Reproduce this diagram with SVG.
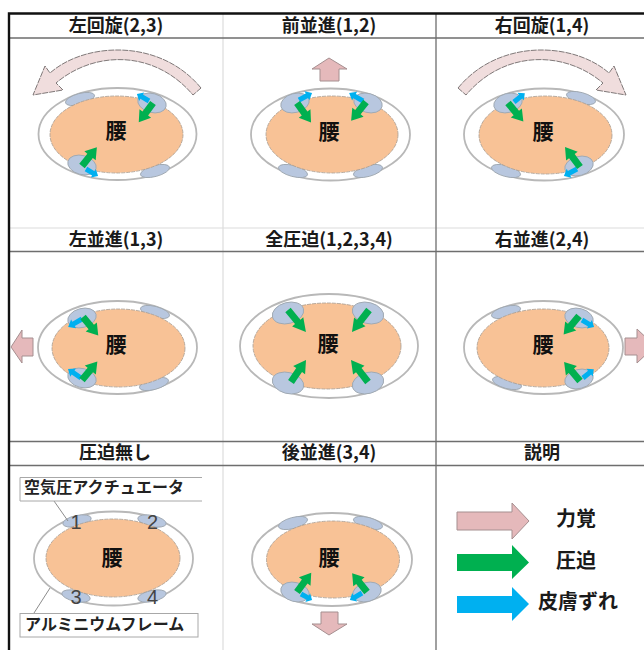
<svg xmlns="http://www.w3.org/2000/svg" xmlns:xlink="http://www.w3.org/1999/xlink" width="644" height="650" viewBox="0 0 644 650">
<style>
text{font-family:"Noto Sans CJK JP","Noto Sans CJK SC",sans-serif;fill:#1a1a1a;text-anchor:middle}
.title{font-size:18px;font-weight:700}
.waist{font-size:21px;font-weight:700;fill:#111}
.legend{font-size:20px;font-weight:700}
.callout{font-size:16px;font-weight:700;text-anchor:start;letter-spacing:.1px;fill:#222}
.num{font-family:"Liberation Sans",sans-serif;font-size:20px;fill:#444}
.frame{fill:#fff;stroke:#b8b8b8;stroke-width:1.8}
.body{fill:#f8c296;stroke:#a79c90;stroke-width:.8;stroke-dasharray:4 1}
.pad{fill:#b8c7df;stroke:#a0a9b2;stroke-width:.9}
.force{fill:#e5b9bb;stroke:#a58f90;stroke-width:1}
.arc{fill:#f0dddd;stroke:#7f7878;stroke-width:1;stroke-dasharray:6 1}
.gl{stroke:#6e6e6e;stroke-width:1.3;fill:none}
.lgl{stroke:#dcdcdc;stroke-width:1.2;fill:none}
.box{fill:#fff;stroke:#a8a8a8;stroke-width:1}
.lead{stroke:#8c8c8c;stroke-width:1;fill:none}
</style>
<defs>
<polygon id="press" fill="#00b050" points="0,-3.500 13,-3.500 13,-7.200 24,0 13,7.200 13,3.500 0,3.500"/>
<polygon id="slip" fill="#00b0f0" points="0,-2.500 8.500,-2.500 8.500,-5 14,0 8.500,5 8.500,2.500 0,2.500"/>
<path id="arcL" class="arc" d="M201,88 C160,38 85,42 50,73 L45,66 L33,95 L63,90 L56,83 C95,50 155,50 193,95 Z"/>
</defs>
<rect width="644" height="650" fill="#fff"/>
<g id="grid">
<path class="lgl" d="M223,14V650M9,228H644"/>
<path class="gl" d="M436,14V650M10,38H644M10,251.500H644M10,441.500H644M10,465.500H644"/>
<path d="M9,650V13.500H644" fill="none" stroke="#111" stroke-width="2.400"/>
</g>

<g id="p-left-rotate">
<use href="#arcL"/>
<ellipse class="frame" cx="117.500" cy="134" rx="79" ry="46"/>
<ellipse class="pad" cx="80" cy="99" rx="15" ry="5.500" transform="rotate(-15 80 99)"/>
<ellipse class="pad" cx="155" cy="171" rx="15" ry="5.500" transform="rotate(-15 155 171)"/>
<ellipse class="body" cx="116.500" cy="134.500" rx="66.500" ry="38.500"/>
<ellipse class="pad" cx="152" cy="103" rx="14.500" ry="9.500" transform="rotate(15 152 103)"/>
<ellipse class="pad" cx="82" cy="165" rx="14.500" ry="9.500" transform="rotate(15 82 165)"/>
<use href="#slip" transform="translate(149,101) rotate(-149.700)"/>
<use href="#slip" transform="translate(86,169) rotate(30.300)"/>
<use href="#press" transform="translate(153,103) rotate(126.400)"/>
<use href="#press" transform="translate(82,166) rotate(-51.700)"/>
<text class="waist" x="116" y="138">腰</text>
<text class="title" x="116" y="32">左回旋(2,3)</text>
</g>

<g id="p-forward">
<polygon class="force" points="329,58 347,69 339,69 339,81 320,81 320,69 312,69"/>
<ellipse class="frame" cx="330.500" cy="134.500" rx="79.500" ry="46"/>
<ellipse class="pad" cx="293" cy="171" rx="15" ry="5.500" transform="rotate(15 293 171)"/>
<ellipse class="pad" cx="368" cy="171" rx="15" ry="5.500" transform="rotate(-15 368 171)"/>
<ellipse class="body" cx="332" cy="134.500" rx="66" ry="38.500"/>
<ellipse class="pad" cx="295" cy="103" rx="14.500" ry="9.500" transform="rotate(-15 295 103)"/>
<ellipse class="pad" cx="368" cy="103" rx="14.500" ry="9.500" transform="rotate(15 368 103)"/>
<use href="#slip" transform="translate(299,100) rotate(-28.300) scale(1.060,1)"/>
<use href="#slip" transform="translate(363,101) rotate(-150.300) scale(1.140,1)"/>
<use href="#press" transform="translate(297,103) rotate(54.200)"/>
<use href="#press" transform="translate(366,102) rotate(128.300)"/>
<text class="waist" x="329" y="138.500">腰</text>
<text class="title" x="329" y="32">前並進(1,2)</text>
</g>

<g id="p-right-rotate">
<use href="#arcL" transform="translate(659,0) scale(-1,1)"/>
<ellipse class="frame" cx="544" cy="134.500" rx="80" ry="46"/>
<ellipse class="pad" cx="581" cy="98" rx="15" ry="5.500" transform="rotate(15 581 98)"/>
<ellipse class="pad" cx="506" cy="171" rx="15" ry="5.500" transform="rotate(15 506 171)"/>
<ellipse class="body" cx="545.500" cy="135" rx="66.500" ry="39"/>
<ellipse class="pad" cx="508" cy="103" rx="14.500" ry="9.500" transform="rotate(-15 508 103)"/>
<ellipse class="pad" cx="579" cy="166" rx="14.500" ry="9.500" transform="rotate(-15 579 166)"/>
<use href="#slip" transform="translate(514,102) rotate(-39.300)"/>
<use href="#slip" transform="translate(577,169) rotate(151.700) scale(1.060,1)"/>
<use href="#press" transform="translate(508,103) rotate(50.200)"/>
<use href="#press" transform="translate(580,167) rotate(-126.900) scale(1.040,1)"/>
<text class="waist" x="543" y="138.500">腰</text>
<text class="title" x="542" y="32">右回旋(1,4)</text>
</g>

<g id="p-left">
<polygon class="force" points="11,347 22,330 22,338 33,338 33,356 22,356 22,363"/>
<ellipse class="frame" cx="117.500" cy="347.500" rx="79.500" ry="46.500"/>
<ellipse class="pad" cx="155" cy="312" rx="15" ry="5.500" transform="rotate(15 155 312)"/>
<ellipse class="pad" cx="154" cy="384" rx="15" ry="5.500" transform="rotate(-15 154 384)"/>
<ellipse class="body" cx="118.500" cy="348" rx="66.500" ry="39"/>
<ellipse class="pad" cx="82" cy="318" rx="14.500" ry="9.500" transform="rotate(-15 82 318)"/>
<ellipse class="pad" cx="82" cy="378" rx="14.500" ry="9.500" transform="rotate(15 82 378)"/>
<use href="#slip" transform="translate(82,319) rotate(150.300) scale(1.140,1)"/>
<use href="#slip" transform="translate(81,378) rotate(-145.300) scale(1.130,1)"/>
<use href="#press" transform="translate(83,317) rotate(50.500)"/>
<use href="#press" transform="translate(82,380) rotate(-50.200)"/>
<text class="waist" x="116" y="351.500">腰</text>
<text class="title" x="116" y="246">左並進(1,3)</text>
</g>

<g id="p-all">
<ellipse class="frame" cx="329" cy="346" rx="89" ry="52"/>
<ellipse class="body" cx="327" cy="346" rx="74" ry="43"/>
<ellipse class="pad" cx="288" cy="313" rx="16" ry="10.500" transform="rotate(-15 288 313)"/>
<ellipse class="pad" cx="368" cy="313" rx="16" ry="10.500" transform="rotate(15 368 313)"/>
<ellipse class="pad" cx="288" cy="383" rx="16" ry="10.500" transform="rotate(15 288 383)"/>
<ellipse class="pad" cx="368" cy="383" rx="16" ry="10.500" transform="rotate(-15 368 383)"/>
<use href="#press" transform="translate(288,310) rotate(50.700) scale(1.180,1)"/>
<use href="#press" transform="translate(369,310) rotate(127.700) scale(1.160,1)"/>
<use href="#press" transform="translate(291,382) rotate(-55.700) scale(1.110,1)"/>
<use href="#press" transform="translate(368,382) rotate(-127.700) scale(1.160,1)"/>
<text class="waist" x="328" y="350.500">腰</text>
<text class="title" x="329" y="246">全圧迫(1,2,3,4)</text>
</g>

<g id="p-right">
<polygon class="force" points="655,346 637,329 637,338 625,338 625,355 637,355 637,363"/>
<ellipse class="frame" cx="543.500" cy="347.500" rx="79.500" ry="46.500"/>
<ellipse class="pad" cx="506" cy="312" rx="15" ry="5.500" transform="rotate(-15 506 312)"/>
<ellipse class="pad" cx="507" cy="383" rx="15" ry="5.500" transform="rotate(15 507 383)"/>
<ellipse class="body" cx="543" cy="348" rx="66" ry="39"/>
<ellipse class="pad" cx="579" cy="318" rx="14.500" ry="9.500" transform="rotate(15 579 318)"/>
<ellipse class="pad" cx="579" cy="379" rx="14.500" ry="9.500" transform="rotate(-15 579 379)"/>
<use href="#slip" transform="translate(582,320) rotate(30.300)"/>
<use href="#slip" transform="translate(583,378) rotate(-39.300)"/>
<use href="#press" transform="translate(579,316) rotate(129.800)"/>
<use href="#press" transform="translate(580,381) rotate(-130.100) scale(1.030,1)"/>
<text class="waist" x="543" y="351.500">腰</text>
<text class="title" x="542" y="246">右並進(2,4)</text>
</g>

<g id="p-none">
<ellipse class="frame" cx="113.500" cy="558.500" rx="79.500" ry="47"/>
<ellipse class="pad" cx="77" cy="521" rx="14.500" ry="5.500" transform="rotate(-12 77 521)"/>
<ellipse class="pad" cx="152" cy="521" rx="14.500" ry="5.500" transform="rotate(12 152 521)"/>
<ellipse class="pad" cx="76" cy="596" rx="14.500" ry="5.500" transform="rotate(12 76 596)"/>
<ellipse class="pad" cx="152" cy="596" rx="14.500" ry="5.500" transform="rotate(-12 152 596)"/>
<ellipse class="body" cx="113" cy="558" rx="67" ry="39"/>
<text class="num" x="76" y="529">1</text>
<text class="num" x="152.500" y="529">2</text>
<text class="num" x="76" y="603.500">3</text>
<text class="num" x="152.500" y="603.500">4</text>
<text class="waist" x="112" y="564.500">腰</text>
<text class="title" x="115" y="459">圧迫無し</text>
</g>

<g id="connectors">
<path class="lead" d="M54,501L68,521"/>
<path class="lead" d="M50,588L34,613"/>
</g>

<g id="label-actuator">
<path class="box" d="M202,477.500H20V501H202"/>
<text class="callout" x="24" y="493">空気圧アクチュエータ</text>
</g>
<g id="label-frame">
<rect class="box" x="20" y="613.500" width="178" height="23.500"/>
<text class="callout" x="25" y="630">アルミニウムフレーム</text>
</g>

<g id="p-back">
<ellipse class="frame" cx="332" cy="559.500" rx="80" ry="46.500"/>
<ellipse class="pad" cx="293" cy="523" rx="15" ry="5.500" transform="rotate(-15 293 523)"/>
<ellipse class="pad" cx="368" cy="523" rx="15" ry="5.500" transform="rotate(15 368 523)"/>
<ellipse class="body" cx="333" cy="559.500" rx="66.500" ry="38.500"/>
<ellipse class="pad" cx="295" cy="592" rx="14.500" ry="9.500" transform="rotate(15 295 592)"/>
<ellipse class="pad" cx="367" cy="592" rx="14.500" ry="9.500" transform="rotate(-15 367 592)"/>
<use href="#slip" transform="translate(301,594) rotate(28.600) scale(.9,1)"/>
<use href="#slip" transform="translate(362,593) rotate(149.700)"/>
<use href="#press" transform="translate(297,592) rotate(-53.600)"/>
<use href="#press" transform="translate(367,592) rotate(-128.300)"/>
<polygon class="force" points="321,612 338,612 338,624 347,624 329,635 312,624 321,624"/>
<text class="waist" x="329" y="564.500">腰</text>
<text class="title" x="329" y="459">後並進(3,4)</text>
</g>

<g id="legend">
<text class="title" x="542" y="459">説明</text>
<polygon class="force" points="457,512 512,512 512,503 529,521 512,539 512,530 457,530"/>
<polygon fill="#00b050" points="457,554 512,554 512,545 529,562.500 512,579 512,571 457,571"/>
<polygon fill="#00b0f0" points="457,596 512,596 512,587 529,604 512,621 512,613 457,613"/>
<text class="legend" x="576" y="526">力覚</text>
<text class="legend" x="576" y="568">圧迫</text>
<text class="legend" x="578" y="609">皮膚ずれ</text>
</g>
</svg>
